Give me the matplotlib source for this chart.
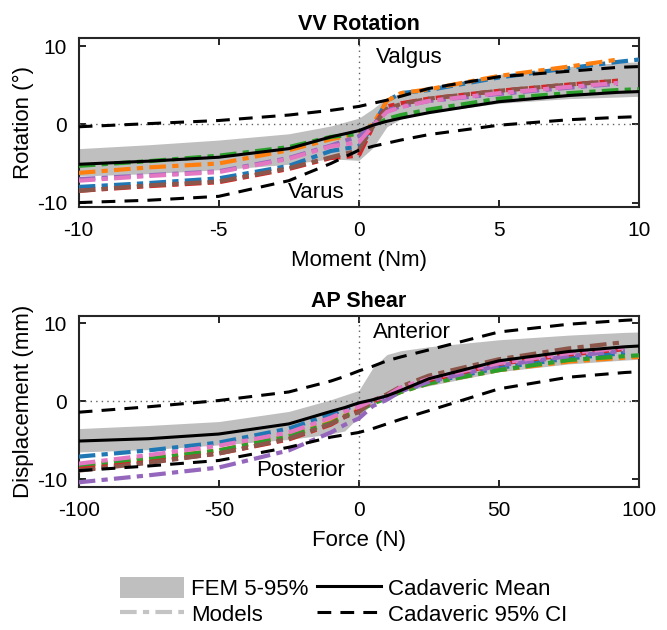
import matplotlib
matplotlib.use("Agg")
import matplotlib.pyplot as plt
import numpy as np
from matplotlib.patches import Patch
from matplotlib.lines import Line2D

plt.rcParams['font.family'] = ['Liberation Sans', 'DejaVu Sans']
plt.rcParams['font.size'] = 15
plt.rcParams['axes.unicode_minus'] = False

nan = np.nan
model_colors = ['#1f77b4', '#ff7f0e', '#2ca02c', '#d62728', '#9467bd', '#8c564b', '#e377c2']

# ---- VV rotation (top) ----
moment = [-10, -7.5, -5, -2.5, -1, 0, 0.5, 1, 1.5, 2.5, 5, 7.5, 9.25, 10]

vv_mean = [-5.1, -4.7, -4.2, -3.1, -1.6, -0.8, -0.1, 0.4, 0.8, 1.5, 2.9, 3.7, 4.1, 4.2]
vv_ci_hi = [-0.3, 0.1, 0.5, 1.2, 1.8, 2.3, 2.7, 3.1, 3.6, 4.6, 6.1, 6.8, 7.3, 7.4]
vv_ci_lo = [-10.0, -9.7, -9.2, -7.2, -5.0, -3.3, -2.8, -2.4, -2.0, -1.3, -0.1, 0.6, 0.9, 1.0]
vv_fem_hi = [-3.1, -2.6, -2.0, -1.2, -0.2, 0.8, 2.0, 3.4, 4.0, 4.8, 6.4, 7.4, 7.9, 8.0]
vv_fem_lo = [-6.6, -6.3, -5.8, -5.1, -4.4, -4.6, -3.0, -0.3, 0.7, 1.5, 2.7, 3.3, 3.5, 3.6]

vv_blue = [-8.0, -7.5, -6.9, -5.3, -3.4, -2.8, -0.2, 3.0, 4.0, 4.4, 6.0, 7.2, 8.0, 8.3]
vv_orange = [-6.2, -5.5, -5.0, -3.3, -1.9, -1.2, 0.0, 3.0, 4.0, 4.5, 6.2, 7.4, 8.3, nan]
vv_green = [-5.3, -4.7, -4.0, -2.9, -1.6, -1.2, -0.2, 0.7, 1.2, 1.9, 3.3, 4.0, 4.4, 4.5]
vv_red = [-8.5, -7.9, -7.4, -5.7, -4.3, -4.0, -0.3, 2.3, 2.7, 3.3, 4.3, 5.1, 5.6, nan]
vv_purple = [-7.0, -6.5, -6.0, -4.3, -2.7, -1.5, -0.1, 1.8, 2.3, 3.0, 3.9, 4.7, 5.2, nan]
vv_brown = [-8.5, -7.8, -7.3, -5.6, -4.2, -3.3, -0.3, 2.0, 2.6, 3.3, 4.3, 5.1, 5.6, nan]
vv_pink = [-7.2, -6.6, -6.1, -4.4, -2.8, -2.3, -0.2, 1.6, 2.2, 3.0, 4.0, 4.8, 5.3, nan]
vv_models = [vv_blue, vv_orange, vv_green, vv_red, vv_purple, vv_brown, vv_pink]

# ---- AP shear (bottom) ----
force = [-100, -75, -50, -25, -10, -5, 0, 5, 10, 15, 25, 50, 75, 95, 100]

ap_mean = [-5.1, -4.8, -4.2, -2.9, -1.3, -0.8, -0.2, 0.2, 0.7, 1.4, 2.9, 5.2, 6.4, 7.0, 7.1]
ap_ci_hi = [-1.4, -0.7, 0.1, 1.2, 2.6, 3.2, 3.9, 4.5, 5.2, 5.7, 6.6, 8.9, 9.9, 10.4, 10.5]
ap_ci_lo = [-8.9, -8.3, -7.6, -5.9, -4.6, -4.3, -4.0, -3.5, -2.9, -2.3, -1.2, 1.6, 3.1, 3.7, 3.8]
ap_fem_hi = [-3.5, -3.1, -2.6, -1.3, 0.2, 0.8, 1.4, 4.3, 6.0, 6.5, 7.0, 7.9, 8.5, 8.85, 8.9]
ap_fem_lo = [-6.5, -6.2, -5.6, -4.9, -4.2, -3.8, -2.0, -0.2, 0.6, 1.2, 2.0, 3.8, 4.8, 5.3, 5.4]

ap_blue = [-7.1, -6.3, -5.3, -3.5, -1.7, -1.0, -0.4, 0.1, 0.6, 1.3, 2.4, 4.3, 5.5, 6.2, nan]
ap_orange = [-8.2, -7.3, -6.3, -4.4, -2.7, -1.8, -1.0, -0.1, 0.5, 1.2, 2.3, 4.0, 5.1, 5.6, 5.7]
ap_green = [-8.3, -7.4, -6.3, -4.5, -2.8, -1.9, -1.2, -0.3, 0.4, 1.2, 2.3, 4.0, 5.3, 5.8, 5.9]
ap_red = [-8.7, -7.8, -6.7, -4.9, -3.0, -2.0, -1.2, 0.0, 0.6, 1.5, 2.7, 4.8, 6.0, 6.7, nan]
ap_purple = [-10.4, -9.5, -8.5, -6.3, -4.0, -3.0, -2.2, -0.6, 0.2, 1.3, 2.5, 4.6, 5.8, 6.5, nan]
ap_brown = [-8.9, -7.9, -6.7, -4.8, -2.9, -2.0, -1.4, 0.1, 0.9, 1.9, 3.3, 5.4, 6.8, 7.6, nan]
ap_pink = [-8.0, -6.9, -5.7, -4.0, -2.1, -1.3, -0.7, 0.1, 0.7, 1.8, 2.9, 4.9, 6.2, 6.9, nan]
ap_models = [ap_blue, ap_orange, ap_green, ap_red, ap_purple, ap_brown, ap_pink]

band_color = '#bfbfbf'


def draw_panel(ax, x, mean, ci_hi, ci_lo, fem_hi, fem_lo, models):
    ax.fill_between(x, fem_lo, fem_hi, color=band_color, lw=0, zorder=1)
    ax.axhline(0, color='#606060', lw=1, ls=(0, (1, 3)), zorder=2)
    ax.axvline(0, color='#606060', lw=1, ls=(0, (1, 3)), zorder=2)
    for vals, c in zip(models, model_colors):
        ax.plot(x, vals, color=c, lw=3, dashes=(4, 1.5, 1.5, 1.5), zorder=3)
    ax.plot(x, mean, color='black', lw=2.2, zorder=4)
    ax.plot(x, ci_hi, color='black', lw=2.2, dashes=(4.5, 3), zorder=4)
    ax.plot(x, ci_lo, color='black', lw=2.2, dashes=(4.5, 3), zorder=4)
    ax.tick_params(direction='in', top=True, right=True, length=5, width=1.2,
                   pad=8.5, labelsize=15)
    ax.tick_params(axis='x', pad=10)
    for s in ax.spines.values():
        s.set_linewidth(1.5)
        s.set_color('#262626')


fig = plt.figure(figsize=(6.67, 6.3), dpi=100)

ax1 = fig.add_axes([0.118, 0.671, 0.840, 0.268])
draw_panel(ax1, moment, vv_mean, vv_ci_hi, vv_ci_lo, vv_fem_hi, vv_fem_lo, vv_models)
ax1.set_xlim(-10, 10)
ax1.set_ylim(-10.6, 11)
ax1.set_xticks([-10, -5, 0, 5, 10])
ax1.set_yticks([-10, 0, 10])
ax1.set_title('VV Rotation', fontweight='bold', fontsize=15.5, pad=6)
ax1.set_xlabel('Moment (Nm)', fontsize=16, labelpad=7)
ax1.set_ylabel('Rotation (°)', fontsize=16, labelpad=2)
ax1.text(0.6, 8.6, 'Valgus', ha='left', va='center', fontsize=16)
ax1.text(-0.5, -8.7, 'Varus', ha='right', va='center', fontsize=16)

ax2 = fig.add_axes([0.118, 0.227, 0.840, 0.272])
draw_panel(ax2, force, ap_mean, ap_ci_hi, ap_ci_lo, ap_fem_hi, ap_fem_lo, ap_models)
ax2.set_xlim(-100, 100)
ax2.set_ylim(-11, 11)
ax2.set_xticks([-100, -50, 0, 50, 100])
ax2.set_yticks([-10, 0, 10])
ax2.set_title('AP Shear', fontweight='bold', fontsize=15.5, pad=6)
ax2.set_xlabel('Force (N)', fontsize=16, labelpad=7)
ax2.set_ylabel('Displacement (mm)', fontsize=16, labelpad=2)
ax2.text(5, 8.8, 'Anterior', ha='left', va='center', fontsize=16)
ax2.text(-5, -8.9, 'Posterior', ha='right', va='center', fontsize=16)

handles = [
    Patch(facecolor=band_color, edgecolor='none'),
    Line2D([], [], color='#c4c4c4', lw=3, dashes=(4, 1.5, 1.5, 1.5)),
    Line2D([], [], color='black', lw=2.2),
    Line2D([], [], color='black', lw=2.2, dashes=(4.5, 3)),
]
labels = ['FEM 5-95%', 'Models', 'Cadaveric Mean', 'Cadaveric 95% CI']
fig.legend(handles, labels, ncol=2, loc='upper left',
           bbox_to_anchor=(120 / 667, 1 - 577 / 630), frameon=False,
           borderpad=0, borderaxespad=0, handlelength=2.88, handleheight=1.05,
           handletextpad=0.32, columnspacing=0.4, labelspacing=0.16, fontsize=16)

fig.savefig('out.png', dpi=100)
